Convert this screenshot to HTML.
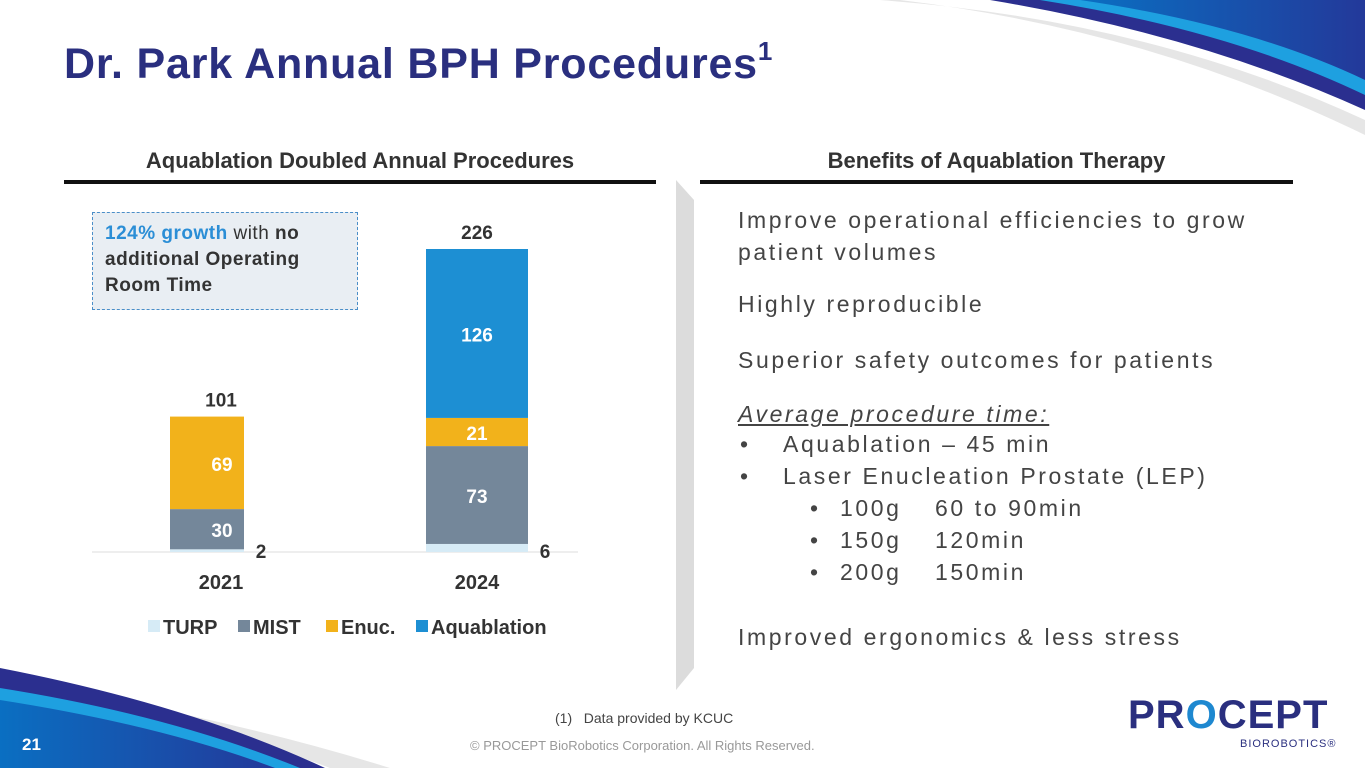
<!DOCTYPE html>
<html><head><meta charset="utf-8">
<style>
html,body{margin:0;padding:0;}
body{width:1365px;height:768px;position:relative;overflow:hidden;background:#fff;font-family:"Liberation Sans",sans-serif;}
.abs{position:absolute;}
.title{left:64px;top:40px;font-size:43px;font-weight:bold;color:#2a2f7f;white-space:nowrap;letter-spacing:0.8px;}
.title sup{font-size:26px;vertical-align:top;position:relative;top:-4px;}
.hdr{font-size:22px;font-weight:bold;color:#333;text-align:center;}
.rule{height:4px;background:#111;}
.txt{font-size:23px;color:#444;white-space:nowrap;line-height:32px;letter-spacing:2.6px;}
</style></head><body>
<svg class="abs" style="left:0;top:0" width="1365" height="768">
  <defs>
    <linearGradient id="g1" x1="0" x2="1"><stop offset="0" stop-color="#0a6fc2"/><stop offset="1" stop-color="#23399a"/></linearGradient>
  </defs>
  <path d="M880,0 Q1150,20 1365,120 L1365,135 Q1150,30 900,0 Z" fill="#e6e6e6"/>
  <path d="M990,0 Q1200,35 1365,110 L1365,0 Z" fill="#2b2f8f"/>
  <path d="M1040,0 Q1230,30 1365,95 L1365,0 Z" fill="#1ea0e0"/>
  <path d="M1080,0 Q1250,25 1365,80 L1365,0 Z" fill="url(#g1)"/>
  <path d="M0,680 Q220,715 390,768 L330,768 Q180,712 0,676 Z" fill="#e6e6e6"/>
  <path d="M0,668 Q190,705 325,768 L0,768 Z" fill="#2b2f8f"/>
  <path d="M0,688 Q170,715 300,768 L0,768 Z" fill="#1ea0e0"/>
  <path d="M0,700 Q160,725 275,768 L0,768 Z" fill="url(#g1)"/>
  <polygon points="676,180 694,200 694,668 676,690" fill="#dcdcdc"/>
</svg>
<div class="abs title">Dr. Park Annual BPH Procedures<sup>1</sup></div>

<div class="abs hdr" style="left:64px;top:148px;width:592px">Aquablation Doubled Annual Procedures</div>
<div class="abs rule" style="left:64px;top:180px;width:592px"></div>
<div class="abs hdr" style="left:700px;top:148px;width:593px">Benefits of Aquablation Therapy</div>
<div class="abs rule" style="left:700px;top:180px;width:593px"></div>

<div class="abs" style="left:92px;top:212px;width:266px;height:98px;background:#e9eef3;border:1.5px dashed #4a8ec8;box-sizing:border-box;padding:8px 12px;font-size:19px;font-weight:bold;color:#333;line-height:26px;letter-spacing:0.5px"><span style="color:#2b8ed6">124% growth</span> <span style="font-weight:normal">with</span> no additional Operating Room Time</div>

<svg id="chart" class="abs" style="left:0;top:0" width="680" height="660"></svg>

<div class="abs txt" style="left:738px;top:204px">Improve operational efficiencies to grow<br>patient volumes</div>
<div class="abs txt" style="left:738px;top:288px">Highly reproducible</div>
<div class="abs txt" style="left:738px;top:344px">Superior safety outcomes for patients</div>
<div class="abs txt" style="left:738px;top:398px;font-style:italic;text-decoration:underline">Average procedure time:</div>
<div class="abs txt" style="left:740px;top:428px">•</div>
<div class="abs txt" style="left:783px;top:428px">Aquablation – 45 min</div>
<div class="abs txt" style="left:740px;top:460px">•</div>
<div class="abs txt" style="left:783px;top:460px">Laser Enucleation Prostate (LEP)</div>
<div class="abs txt" style="left:810px;top:492px">•</div>
<div class="abs txt" style="left:840px;top:492px">100g</div>
<div class="abs txt" style="left:935px;top:492px">60 to 90min</div>
<div class="abs txt" style="left:810px;top:524px">•</div>
<div class="abs txt" style="left:840px;top:524px">150g</div>
<div class="abs txt" style="left:935px;top:524px">120min</div>
<div class="abs txt" style="left:810px;top:556px">•</div>
<div class="abs txt" style="left:840px;top:556px">200g</div>
<div class="abs txt" style="left:935px;top:556px">150min</div>
<div class="abs txt" style="left:738px;top:621px">Improved ergonomics &amp; less stress</div>

<div class="abs" style="left:555px;top:710px;font-size:14px;color:#444">(1)&nbsp;&nbsp;&nbsp;Data provided by KCUC</div>
<div class="abs" style="left:470px;top:738px;font-size:13px;color:#999">© PROCEPT BioRobotics Corporation. All Rights Reserved.</div>
<div class="abs" style="left:22px;top:735px;font-size:17px;font-weight:bold;color:#fff">21</div>
<div class="abs" style="left:1128px;top:693px;font-size:40px;font-weight:bold;color:#2a2f7f;letter-spacing:1px">PR<span style="color:#1e88d0">O</span>CEPT</div>
<div class="abs" style="left:1240px;top:738px;font-size:11px;color:#2a2f7f;letter-spacing:1px">BIOROBOTICS®</div>

<script>
const categories=["2021","2024"];
const seriesNames=["TURP","MIST","Enuc.","Aquablation"];
const turp=[2,6];
const mist=[30,73];
const enuc=[69,21];
const aqua=[0,126];
const totals=[101,226];
const colors=["#d6ebf6","#74879a","#f2b21b","#1d8fd3"];
const NS="http://www.w3.org/2000/svg";
const svg=document.getElementById("chart");
const base=552, pxPer=303/226;
const y=v=>base-v*pxPer;
const cx=i=>221+i*256;
const bw=[74,102];
function el(t,a,txt){const e=document.createElementNS(NS,t);for(const k in a)e.setAttribute(k,a[k]);if(txt!==undefined)e.textContent=txt;svg.appendChild(e);return e;}
const ax=el("line",{x1:92,x2:578,y1:base,y2:base,stroke:"#ddd","stroke-width":1});


const series=[turp,mist,enuc,aqua];
categories.forEach((c,i)=>{
  let cum=0;
  const left=(i===0?170:426);
  series.forEach((s,k)=>{
    const v=s[i]; if(!v){return;}
    const r=el("rect",{x:left,y:y(cum+v),width:bw[i],height:v*pxPer,fill:colors[k]});
    
    
    const lx=k===0?left+bw[i]+17:left+bw[i]/2+(i===0?15:0);
    const ly=k===0?base+6:y(cum+v/2)+8;
    const t=el("text",{x:lx,y:ly,"text-anchor":"middle","font-size":19,"font-weight":"bold",fill:k===0?"#333":"#fff"},v);
    
    
    cum+=v;
  });
  const tt=el("text",{x:cx(i),y:y(totals[i])-10,"text-anchor":"middle","font-size":19,"font-weight":"bold",fill:"#333"},totals[i]);
  
  
  const xl=el("text",{x:cx(i),y:589,"text-anchor":"middle","font-size":20,"font-weight":"bold",fill:"#333"},c);
  
  
});
const lx=[148,238,326,416];
seriesNames.forEach((n,k)=>{
  const r=el("rect",{x:lx[k],y:620,width:12,height:12,fill:colors[k]});
  
  
  const t=el("text",{x:lx[k]+15,y:634,"font-size":20,"font-weight":"bold",fill:"#333"},n);
  
  
});
</script>
</body></html>
